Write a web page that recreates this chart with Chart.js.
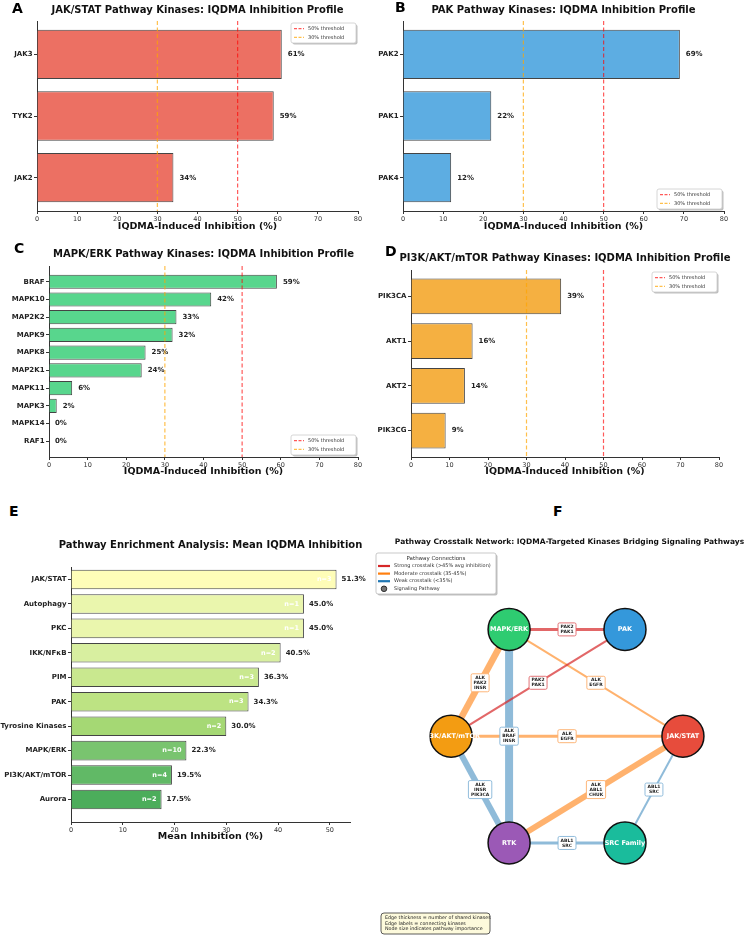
<!DOCTYPE html>
<html>
<head>
<meta charset="utf-8">
<script src="https://cdn.jsdelivr.net/npm/chart.js@4.4.1/dist/chart.umd.min.js"></script>
<style>
  body { margin: 0; background: #fff; overflow: hidden; }
  #fig { position: relative; width: 746px; height: 937px; }
  #fig canvas { position: absolute; }
  .tag { position: absolute; font: bold 14px 'DejaVu Sans', sans-serif; line-height: 14px; color: #000; }
</style>
</head>
<body>
<div id="fig">
  <canvas id="chartA" width="373" height="235" style="left:0;top:0"></canvas>
  <canvas id="chartB" width="373" height="235" style="left:373px;top:0"></canvas>
  <canvas id="chartC" width="373" height="245" style="left:0;top:235px"></canvas>
  <canvas id="chartD" width="373" height="245" style="left:373px;top:235px"></canvas>
  <canvas id="chartE" width="373" height="340" style="left:0;top:520px"></canvas>
  <canvas id="chartF" width="373" height="417" style="left:373px;top:520px"></canvas>
  <div class="tag" style="left:12px;top:1px">A</div>
  <div class="tag" style="left:395px;top:0px">B</div>
  <div class="tag" style="left:14px;top:241px">C</div>
  <div class="tag" style="left:385px;top:244px">D</div>
  <div class="tag" style="left:9px;top:504px">E</div>
  <div class="tag" style="left:553px;top:504px">F</div>
</div>
<script>
// ---- data ----
const jakLabels = ['JAK3', 'TYK2', 'JAK2'];
const jakValues = [61, 59, 34];

const pakLabels = ['PAK2', 'PAK1', 'PAK4'];
const pakValues = [69, 22, 12];

const mapkLabels = ['BRAF', 'MAPK10', 'MAP2K2', 'MAPK9', 'MAPK8', 'MAP2K1', 'MAPK11', 'MAPK3', 'MAPK14', 'RAF1'];
const mapkValues = [59, 42, 33, 32, 25, 24, 6, 2, 0, 0];

const pi3kLabels = ['PIK3CA', 'AKT1', 'AKT2', 'PIK3CG'];
const pi3kValues = [39, 16, 14, 9];

const thresholds = [50, 30];
const thresholdLabels = ['50% threshold', '30% threshold'];
const inhibitionTicks = [0, 10, 20, 30, 40, 50, 60, 70, 80];

const pathwayLabels = ['JAK/STAT', 'Autophagy', 'PKC', 'IKK/NFκB', 'PIM', 'PAK', 'Tyrosine Kinases', 'MAPK/ERK', 'PI3K/AKT/mTOR', 'Aurora'];
const pathwayMeans = [51.3, 45.0, 45.0, 40.5, 36.3, 34.3, 30.0, 22.3, 19.5, 17.5];
const pathwayCounts = [3, 1, 1, 2, 3, 3, 2, 10, 4, 2];
const meanTicks = [0, 10, 20, 30, 40, 50];

// network: nodes on a simple layout grid, edges by node index
const nodeNames = ['MAPK/ERK', 'PAK', 'PI3K/AKT/mTOR', 'JAK/STAT', 'RTK', 'SRC Family'];
const nodeX = [-0.5, 0.5, -1, 1, -0.5, 0.5];
const nodeY = [1, 1, 0, 0, -1, -1];
const edgeFrom = [0, 1, 0, 0, 0, 2, 2, 3, 3, 4];
const edgeTo = [1, 2, 2, 3, 4, 3, 4, 4, 5, 5];
const edgeKinases = [
  ['PAK2', 'PAK1'], ['PAK2', 'PAK1'], ['ALK', 'PAK2', 'INSR'], ['ALK', 'EGFR'], ['ALK', 'BRAF', 'INSR'],
  ['ALK', 'EGFR'], ['ALK', 'INSR', 'PIK3CA'], ['ALK', 'ABL1', 'CHUK'], ['ABL1', 'SRC'], ['ABL1', 'SRC']
];
const edgeStrength = ['strong', 'strong', 'moderate', 'moderate', 'weak', 'moderate', 'weak', 'moderate', 'weak', 'weak'];

// ---- styles ----
const FONT = "'DejaVu Sans', sans-serif";
const thresholdColors = ['rgba(255,0,0,0.65)', 'rgba(255,165,0,0.7)'];
const pathwayColors = ['#fefdb8', '#eaf6ad', '#eaf6ad', '#d8efa0', '#c9e88f', '#bde383', '#a5d874', '#79c46f', '#61b966', '#4cad5b'];
const nodeColors = ['#2ecc71', '#3498db', '#f39c12', '#e74c3c', '#9b59b6', '#1abc9c'];
const edgeColors = { strong: 'rgba(214,39,40,0.7)', moderate: 'rgba(255,127,14,0.6)', weak: 'rgba(31,119,180,0.5)' };
const edgeBoxColors = { strong: '#e06468', moderate: '#fdae6b', weak: '#86b6d8' };
const edgeWidths = [3, 2.2, 6.5, 2, 8, 3, 6, 6, 2, 3];

// title drawn over the middle of the plot area (matplotlib style)
const panelTitle = {
  id: 'panelTitle',
  afterDraw(chart, args, opts) {
    const { ctx, chartArea } = chart;
    ctx.save();
    ctx.font = `bold ${opts.size}px ${FONT}`;
    ctx.fillStyle = '#111';
    ctx.textAlign = 'center';
    ctx.textBaseline = 'middle';
    const x = opts.x !== undefined ? opts.x : (chartArea.left + chartArea.right) / 2;
    ctx.fillText(opts.text, x, opts.y);
    ctx.restore();
  }
};

const barValues = {
  id: 'barValues',
  afterDatasetsDraw(chart, args, opts) {
    const ctx = chart.ctx;
    const meta = chart.getDatasetMeta(0);
    ctx.save();
    ctx.textBaseline = 'middle';
    meta.data.forEach((bar, i) => {
      ctx.font = `bold 7px ${FONT}`;
      ctx.fillStyle = '#222';
      ctx.textAlign = 'left';
      ctx.fillText(opts.text(i), bar.x + opts.gap, bar.y);
      if (opts.inner) {
        ctx.font = `bold 6.5px ${FONT}`;
        ctx.fillStyle = '#fff';
        ctx.textAlign = 'right';
        ctx.fillText(opts.inner(i), bar.x - 5, bar.y);
      }
    });
    ctx.restore();
  }
};

const thresholdLines = {
  id: 'thresholdLines',
  afterDatasetsDraw(chart, args, opts) {
    if (!opts.corner) return;
    const { ctx, chartArea, scales } = chart;
    ctx.save();
    ctx.lineWidth = 1.2;
    ctx.setLineDash([4, 2.5]);
    thresholds.forEach((t, i) => {
      const x = scales.x.getPixelForValue(t);
      ctx.strokeStyle = thresholdColors[i];
      ctx.beginPath();
      ctx.moveTo(x, chartArea.top);
      ctx.lineTo(x, chartArea.bottom);
      ctx.stroke();
    });
    // legend box
    const w = 65, h = 20;
    const left = chartArea.right - 2 - w;
    const top = opts.corner === 'tr' ? chartArea.top + 2 : chartArea.bottom - 2 - h;
    ctx.setLineDash([]);
    ctx.fillStyle = 'rgba(0,0,0,0.25)';
    ctx.beginPath(); ctx.roundRect(left + 1.5, top + 1.5, w, h, 2); ctx.fill();
    ctx.fillStyle = '#fff';
    ctx.strokeStyle = '#ccc';
    ctx.lineWidth = 0.8;
    ctx.beginPath(); ctx.roundRect(left, top, w, h, 2); ctx.fill(); ctx.stroke();
    ctx.font = `5px ${FONT}`;
    ctx.textAlign = 'left';
    ctx.textBaseline = 'middle';
    thresholdLabels.forEach((label, i) => {
      const y = top + 5.7 + i * 8.6;
      ctx.strokeStyle = thresholdColors[i];
      ctx.lineWidth = 1.2;
      ctx.setLineDash([3, 1.5]);
      ctx.beginPath(); ctx.moveTo(left + 3, y); ctx.lineTo(left + 13, y); ctx.stroke();
      ctx.setLineDash([]);
      ctx.fillStyle = '#333';
      ctx.fillText(label, left + 17, y);
    });
    ctx.restore();
  }
};

// horizontal bar panel; box = canvas rect, plot = wanted plot rect (page pixels)
function barChart(id, box, plot, cfg) {
  const [bx, by, bw, bh] = box;
  const [pl, pt, pr, pb] = plot;
  const lh = cfg.xTitleSize * 1.2;
  return new Chart(document.getElementById(id), {
    type: 'bar',
    data: {
      datasets: [{
        data: cfg.values.map((v, i) => ({ x: v, y: i })),
        backgroundColor: cfg.colors,
        borderColor: '#444',
        borderWidth: 1,
        barPercentage: 0.8,
        categoryPercentage: 1
      }]
    },
    options: {
      indexAxis: 'y',
      responsive: false,
      animation: false,
      events: [],
      layout: { padding: { left: 0, top: pt - by, right: bx + bw - pr, bottom: 0 } },
      scales: {
        x: {
          type: 'linear', min: 0, max: cfg.xMax, offset: false,
          afterBuildTicks: s => { s.ticks = cfg.xTicks.map(v => ({ value: v })); },
          afterFit: s => { s.height = by + bh - pb; },
          grid: { drawOnChartArea: false, offset: false, tickLength: 3, tickColor: '#333' },
          border: { color: '#333', width: 1 },
          ticks: { font: { family: FONT, size: 6.5 }, color: '#333', padding: 1, maxRotation: 0 },
          title: {
            display: true, text: cfg.xTitle, color: '#111',
            font: { family: FONT, size: cfg.xTitleSize, weight: 'bold', lineHeight: 1.2 },
            padding: { top: 0, bottom: by + bh - cfg.xTitleY - lh / 2 }
          }
        },
        y: {
          type: 'linear', reverse: true, min: cfg.yRange[0], max: cfg.yRange[1], offset: false,
          afterBuildTicks: s => { s.ticks = cfg.labels.map((l, i) => ({ value: i })); },
          afterFit: s => { s.width = pl - bx; },
          grid: { drawOnChartArea: false, offset: false, tickLength: 3, tickColor: '#333' },
          border: { color: '#333', width: 1 },
          ticks: { callback: v => cfg.labels[v], autoSkip: false, font: { family: FONT, size: 7, weight: 'bold' }, color: '#222', padding: 1.5 }
        }
      },
      plugins: {
        legend: { display: false },
        tooltip: { enabled: false },
        panelTitle: { text: cfg.title, size: 10, y: cfg.titleY - by },
        barValues: { gap: cfg.gap, text: cfg.valueText, inner: cfg.innerText },
        thresholdLines: { corner: cfg.legendCorner }
      }
    },
    plugins: [panelTitle, barValues, thresholdLines]
  });
}

const xTitle = 'IQDMA-Induced Inhibition (%)';
const pct = arr => i => `${arr[i]}%`;

barChart('chartA', [0, 0, 373, 235], [37, 21, 358, 211], {
  labels: jakLabels, values: jakValues, colors: '#ec7063', xMax: 80, xTicks: inhibitionTicks,
  yRange: [-0.54, 2.54], title: 'JAK/STAT Pathway Kinases: IQDMA Inhibition Profile', titleY: 10,
  xTitle, xTitleSize: 9.5, xTitleY: 227, gap: 6, valueText: pct(jakValues), legendCorner: 'tr'
});

barChart('chartB', [373, 0, 373, 235], [403, 21, 724, 211], {
  labels: pakLabels, values: pakValues, colors: '#5dade2', xMax: 80, xTicks: inhibitionTicks,
  yRange: [-0.54, 2.54], title: 'PAK Pathway Kinases: IQDMA Inhibition Profile', titleY: 10,
  xTitle, xTitleSize: 9.5, xTitleY: 227, gap: 6, valueText: pct(pakValues), legendCorner: 'br'
});

barChart('chartC', [0, 235, 373, 245], [49, 266, 358, 457], {
  labels: mapkLabels, values: mapkValues, colors: '#58d68d', xMax: 80, xTicks: inhibitionTicks,
  yRange: [-0.89, 9.89], title: 'MAPK/ERK Pathway Kinases: IQDMA Inhibition Profile', titleY: 254,
  xTitle, xTitleSize: 9.5, xTitleY: 472, gap: 6, valueText: pct(mapkValues), legendCorner: 'br'
});

barChart('chartD', [373, 235, 373, 245], [411, 270, 719, 457], {
  labels: pi3kLabels, values: pi3kValues, colors: '#f5b041', xMax: 80, xTicks: inhibitionTicks,
  yRange: [-0.59, 3.59], title: 'PI3K/AKT/mTOR Pathway Kinases: IQDMA Inhibition Profile', titleY: 258,
  xTitle, xTitleSize: 9.5, xTitleY: 472, gap: 6, valueText: pct(pi3kValues), legendCorner: 'tr'
});

barChart('chartE', [0, 520, 373, 340], [71, 567, 350, 822], {
  labels: pathwayLabels, values: pathwayMeans, colors: pathwayColors, xMax: 53.9, xTicks: meanTicks,
  yRange: [-0.51, 9.92], title: 'Pathway Enrichment Analysis: Mean IQDMA Inhibition', titleY: 545,
  xTitle: 'Mean Inhibition (%)', xTitleSize: 9.5, xTitleY: 837, gap: 5,
  valueText: i => `${pathwayMeans[i].toFixed(1)}%`, innerText: i => `n=${pathwayCounts[i]}`
});

// ---- panel F: crosstalk network ----
const networkDecor = {
  id: 'networkDecor',
  afterDatasetsDraw(chart) {
    const { ctx, scales: { x, y } } = chart;
    ctx.save();
    ctx.textAlign = 'center';
    ctx.textBaseline = 'middle';
    // kinase boxes on the edges
    edgeFrom.forEach((a, i) => {
      const b = edgeTo[i];
      const px = x.getPixelForValue((nodeX[a] + nodeX[b]) / 2);
      const py = y.getPixelForValue((nodeY[a] + nodeY[b]) / 2);
      const lines = edgeKinases[i];
      ctx.font = `bold 4.5px ${FONT}`;
      const w = Math.max(...lines.map(t => ctx.measureText(t).width)) + 5;
      const h = lines.length * 5 + 3;
      ctx.fillStyle = '#fff';
      ctx.strokeStyle = edgeBoxColors[edgeStrength[i]];
      ctx.lineWidth = 0.9;
      ctx.beginPath(); ctx.roundRect(px - w / 2, py - h / 2, w, h, 1.5); ctx.fill(); ctx.stroke();
      ctx.fillStyle = '#222';
      lines.forEach((t, k) => ctx.fillText(t, px, py - h / 2 + 4 + k * 5));
    });
    // node names
    ctx.font = `bold 6.5px ${FONT}`;
    ctx.fillStyle = '#fff';
    nodeNames.forEach((n, i) => ctx.fillText(n, x.getPixelForValue(nodeX[i]), y.getPixelForValue(nodeY[i])));

    // legend
    const lx = 3, ly = 33, lw = 120, lh = 41;
    ctx.fillStyle = 'rgba(0,0,0,0.25)';
    ctx.beginPath(); ctx.roundRect(lx + 1.5, ly + 1.5, lw, lh, 2); ctx.fill();
    ctx.fillStyle = '#fff';
    ctx.strokeStyle = '#bbb';
    ctx.lineWidth = 0.8;
    ctx.beginPath(); ctx.roundRect(lx, ly, lw, lh, 2); ctx.fill(); ctx.stroke();
    ctx.fillStyle = '#333';
    ctx.font = `5.5px ${FONT}`;
    ctx.fillText('Pathway Connections', lx + lw / 2, ly + 5.5);
    const items = [
      ['Strong crosstalk (>45% avg inhibition)', '#d62728'],
      ['Moderate crosstalk (35-45%)', '#ff7f0e'],
      ['Weak crosstalk (<35%)', '#1f77b4'],
      ['Signaling Pathway', null]
    ];
    ctx.font = `5px ${FONT}`;
    ctx.textAlign = 'left';
    items.forEach(([label, col], k) => {
      const yy = ly + 13 + k * 7.6;
      if (col) {
        ctx.strokeStyle = col;
        ctx.lineWidth = 2.2;
        ctx.beginPath(); ctx.moveTo(lx + 2, yy); ctx.lineTo(lx + 14, yy); ctx.stroke();
      } else {
        ctx.fillStyle = '#777';
        ctx.strokeStyle = '#111';
        ctx.lineWidth = 0.8;
        ctx.beginPath(); ctx.arc(lx + 8, yy, 2.8, 0, Math.PI * 2); ctx.fill(); ctx.stroke();
      }
      ctx.fillStyle = '#333';
      ctx.fillText(label, lx + 18, yy);
    });

    // note box
    const nx = 8, ny = 393, nw = 109, nh = 21;
    ctx.fillStyle = '#fdfadc';
    ctx.strokeStyle = '#333';
    ctx.lineWidth = 0.8;
    ctx.beginPath(); ctx.roundRect(nx, ny, nw, nh, 3); ctx.fill(); ctx.stroke();
    ctx.fillStyle = '#222';
    ctx.font = `4.8px ${FONT}`;
    ['Edge thickness = number of shared kinases', 'Edge labels = connecting kinases', 'Node size indicates pathway importance']
      .forEach((t, k) => ctx.fillText(t, nx + 4, ny + 5 + k * 5.4));
    ctx.restore();
  }
};

new Chart(document.getElementById('chartF'), {
  type: 'scatter',
  data: {
    datasets: [
      {
        data: nodeX.map((v, i) => ({ x: v, y: nodeY[i] })),
        pointRadius: 21,
        pointBackgroundColor: nodeColors,
        pointBorderColor: '#111',
        pointBorderWidth: 1.5,
        order: 1
      },
      ...edgeFrom.map((a, i) => ({
        data: [{ x: nodeX[a], y: nodeY[a] }, { x: nodeX[edgeTo[i]], y: nodeY[edgeTo[i]] }],
        showLine: true,
        borderColor: edgeColors[edgeStrength[i]],
        borderWidth: edgeWidths[i],
        pointRadius: 0,
        order: 2
      }))
    ]
  },
  options: {
    responsive: false,
    animation: false,
    events: [],
    layout: { padding: { left: 3, right: 2, top: 40, bottom: 2 } },
    scales: {
      x: { type: 'linear', display: false, min: -1.48, max: 1.35 },
      y: { type: 'linear', display: false, min: -1.67, max: 1.65 }
    },
    plugins: {
      legend: { display: false },
      tooltip: { enabled: false },
      panelTitle: { text: 'Pathway Crosstalk Network: IQDMA-Targeted Kinases Bridging Signaling Pathways', size: 7.5, y: 22, x: 196.5 }
    }
  },
  plugins: [networkDecor, panelTitle]
});
</script>
</body>
</html>
